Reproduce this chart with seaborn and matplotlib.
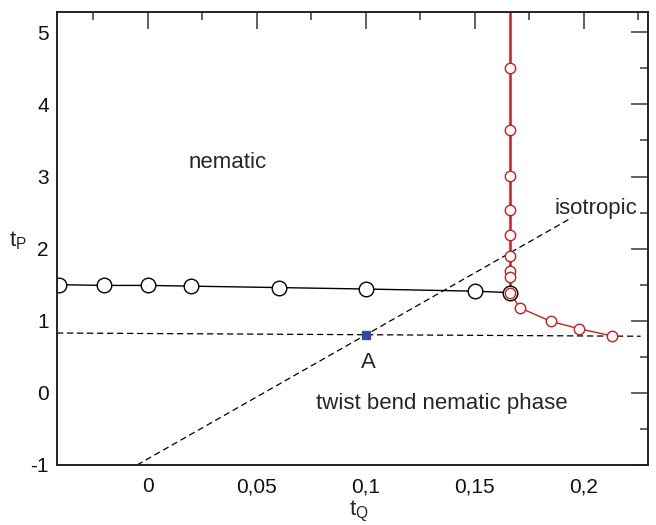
import numpy as np
import pandas as pd
import matplotlib
matplotlib.use('Agg')
import matplotlib.pyplot as plt
import seaborn as sns
from matplotlib.ticker import MultipleLocator, FuncFormatter

sns.set_theme(style='white')
plt.rcParams['font.family'] = ['Liberation Sans', 'DejaVu Sans']

# nematic - twist bend boundary (black)
black_tq = [-0.0408, -0.0202, 0.0, 0.0197, 0.06, 0.1, 0.15, 0.1661]
black_tp = [1.50, 1.49, 1.49, 1.48, 1.46, 1.44, 1.41, 1.39]

# isotropic boundary, vertical branch (red)
red_vert_tq = [0.1661, 0.1661, 0.1661, 0.1661, 0.1661, 0.1661, 0.1661, 0.1661, 0.1661]
red_vert_tp = [4.51, 3.64, 3.01, 2.54, 2.19, 1.90, 1.69, 1.60, 1.39]

# isotropic - twist bend boundary (red)
red_low_tq = [0.1661, 0.1706, 0.1849, 0.1977, 0.2128]
red_low_tp = [1.39, 1.18, 0.99, 0.89, 0.79]

# dashed guide lines
hline_tq = [-0.0417, 0.226]
hline_tp = [0.83, 0.785]
diag_tq = [-0.005, 0.1945]
diag_tp = [-1.0, 2.43]

point_a = (0.1, 0.8)

red = '#c81e1e'

fig = plt.figure(figsize=(6.56, 5.25), dpi=100)
ax = fig.add_axes([0.0869, 0.1143, 0.9009, 0.8627])

ax.plot(hline_tq, hline_tp, color='black', linestyle=(0, (5, 3)), lw=0.9)
ax.plot(diag_tq, diag_tp, color='black', linestyle=(0, (5, 3)), lw=0.9)

# vertical red line runs up past the top of the frame
ax.plot([red_vert_tq[0], red_vert_tq[0]], [red_vert_tp[-1], 6.0], color=red, lw=1.8)
sns.lineplot(x=red_low_tq, y=red_low_tp, sort=False, estimator=None, ax=ax,
             color=red, lw=1.0, marker='o', markersize=7.5,
             markerfacecolor='white', markeredgecolor=red, markeredgewidth=1.0)
sns.lineplot(x=black_tq, y=black_tp, sort=False, estimator=None, ax=ax,
             color='black', lw=1.0, marker='o', markersize=10.5,
             markerfacecolor='white', markeredgecolor='black', markeredgewidth=1.0)
sns.scatterplot(x=red_vert_tq, y=red_vert_tp, ax=ax, marker='o', s=56,
                facecolor='white', edgecolor=red, linewidth=1.0, zorder=5)
ax.plot([point_a[0]], [point_a[1]], marker='s', color='#3a4a9a', markersize=6, zorder=6)

ax.text(0.0367, 3.19, 'nematic', fontsize=16, ha='center', va='center')
ax.text(0.2055, 2.56, 'isotropic', fontsize=16, ha='center', va='center')
ax.text(0.101, 0.42, 'A', fontsize=16, ha='center', va='center')
ax.text(0.135, -0.15, 'twist bend nematic phase', fontsize=16, ha='center', va='center')

ax.set_xlim(-0.0417, 0.2294)
ax.set_ylim(-1.0, 5.28)

ax.xaxis.set_major_locator(MultipleLocator(0.05))
ax.xaxis.set_minor_locator(MultipleLocator(0.025))
ax.yaxis.set_major_locator(MultipleLocator(1))
ax.yaxis.set_minor_locator(MultipleLocator(0.5))

def comma_fmt(v, pos):
    s = ('%.2f' % v).rstrip('0').rstrip('.')
    if s == '-0':
        s = '0'
    return s.replace('.', ',')

ax.xaxis.set_major_formatter(FuncFormatter(comma_fmt))
ax.yaxis.set_major_formatter(FuncFormatter(lambda v, p: '%d' % v))

ax.tick_params(which='both', direction='in', top=True, right=True,
               color='#555555', width=1.3, labelsize=15, labelcolor='#111111')
ax.tick_params(which='major', length=12)
ax.tick_params(axis='x', which='major', pad=9)
ax.tick_params(axis='y', which='major', pad=6)
ax.tick_params(which='minor', length=6)

for sp in ax.spines.values():
    sp.set_color('#222222')
    sp.set_linewidth(1.4)

ax.set_xlabel('t$_\\mathregular{Q}$', fontsize=16)
ax.set_ylabel('t$_\\mathregular{P}$', fontsize=16, rotation=0)
ax.yaxis.set_label_coords(-0.066, 0.47)
ax.xaxis.set_label_coords(0.51, -0.074)

fig.savefig('out.png', dpi=100)
